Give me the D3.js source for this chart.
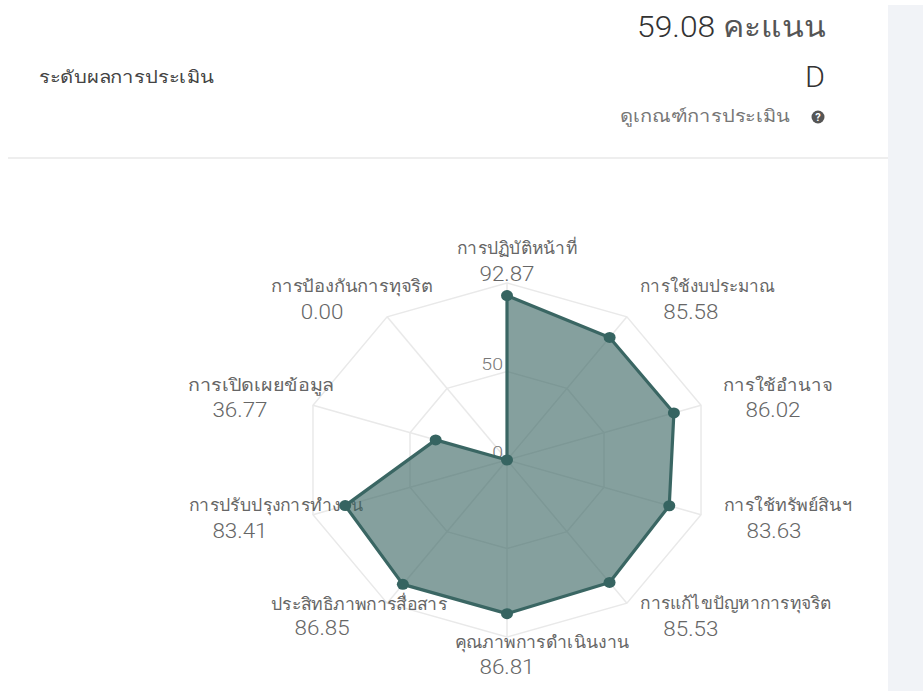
<!DOCTYPE html>
<html>
<head>
<meta charset="utf-8">
<script src="https://cdn.jsdelivr.net/npm/d3@7"></script>
<style>
html, body { margin: 0; background: #fff; }
svg { display: block; }
text { font-family: Roboto, "Noto Sans", sans-serif; font-weight: 300; }
</style>
</head>
<body>
<script>
const categories = ['การปฏิบัติหน้าที่', 'การใช้งบประมาณ', 'การใช้อำนาจ', 'การใช้ทรัพย์สินฯ', 'การแก้ไขปัญหาการทุจริต', 'คุณภาพการดำเนินงาน', 'ประสิทธิภาพการสื่อสาร', 'การปรับปรุงการทำงาน', 'การเปิดเผยข้อมูล', 'การป้องกันการทุจริต']
const scores = [92.87, 85.58, 86.02, 83.63, 85.53, 86.81, 86.85, 83.41, 36.77, 0]
const ringTicks = [0, 50, 100]

const width = 923
const height = 691
const cx = 507
const cy = 460
const radius = 177
// the screenshot is stretched sideways, so x gets its own factor
const stretch = 204 / 177

const valueOffset = [[0, -9], [64, -5], [72, 5], [73, 16], [64, 26], [0, 30], [-65, 25], [-73, 16], [-73, 5], [-65, -5]]
const nameOffset = [[10, -26], [17, -26], [5, -25], [14, -26], [45, -26], [35, -25], [37, -24], [36, -26], [21, -25], [30, -26]]
const nameWidth = [120, 135, 110, 128, 191, 175, 176, 174, 146, 162]

const svg = d3.select('body')
	.append('svg')
	.attr('width', width)
	.attr('height', height)

const fitTo = (sel, w) => sel
	.attr('textLength', w)
	.attr('lengthAdjust', 'spacingAndGlyphs')

// widen a text by a factor, the same way the stretched screenshot did
const widen = (sel, factor) => fitTo(sel, sel.node().getComputedTextLength() * factor)

// side panel and divider
svg.append('rect').attr('x', 888).attr('y', 5).attr('width', 35).attr('height', height).attr('fill', '#f1f3f7')
svg.append('rect').attr('x', 8).attr('y', 157).attr('width', 880).attr('height', 2).attr('fill', '#eeeeee')

const header = (txt, x, y, size, color, anchor) => svg.append('text')
	.attr('x', x)
	.attr('y', y)
	.attr('text-anchor', anchor)
	.attr('font-size', size)
	.attr('fill', color)
	.text(txt)

const total = header('59.08 ', 826, 37, 29, '#333333', 'end')
total.append('tspan').attr('fill', '#555555').text('คะแนน')
fitTo(total, 189)
fitTo(header('ระดับผลการประเมิน', 39, 83, 17, '#444444', 'start'), 175)
fitTo(header('D', 825, 87, 29, '#333333', 'end'), 20)
fitTo(header('ดูเกณฑ์การประเมิน', 790, 122, 17, '#777777', 'end'), 170)

svg.append('circle').attr('cx', 818).attr('cy', 117).attr('r', 6.5).attr('fill', '#555555')
header('?', 818, 121, 11, '#ffffff', 'middle').style('font-weight', 700)

const r = d3.scaleLinear().domain([0, 100]).range([0, radius])
const angle = d3.scaleBand().domain(d3.range(categories.length)).range([0, 2 * Math.PI]).align(0)
const theta = i => angle(i)
const px = (i, v) => cx + stretch * r(v) * Math.sin(theta(i))
const py = (i, v) => cy - r(v) * Math.cos(theta(i))

const idx = d3.range(categories.length)
const closedLine = d3.line().curve(d3.curveLinearClosed)

// rings and spokes
const grid = svg.append('g').attr('fill', 'none').attr('stroke', '#e9e9e9').attr('stroke-width', 1.5)
ringTicks.slice(1).forEach(t => {
	grid.append('path').attr('d', closedLine(idx.map(i => [px(i, t), py(i, t)])))
})
idx.forEach(i => {
	grid.append('line').attr('x1', cx).attr('y1', cy).attr('x2', px(i, 100)).attr('y2', py(i, 100))
})

// tick labels
ringTicks.slice(0, 2).forEach(t => {
	const tick = svg.append('text')
		.attr('x', cx - 4)
		.attr('y', py(0, t) - 2)
		.attr('text-anchor', 'end')
		.attr('font-size', 17)
		.attr('fill', '#777777')
		.text(t)
	widen(tick, 1.15)
})

// category and value labels go under the area, as in the original
const labels = svg.append('g').attr('fill', '#666666').attr('text-anchor', 'middle')
idx.forEach(i => {
	const vx = px(i, 100) + valueOffset[i][0]
	const vy = py(i, 100) + valueOffset[i][1]
	const value = labels.append('text')
		.attr('x', vx)
		.attr('y', vy + 7)
		.attr('font-size', 20)
		.text(scores[i].toFixed(2))
	widen(value, 1.12)
	const name = labels.append('text')
		.attr('x', vx + nameOffset[i][0])
		.attr('y', vy + nameOffset[i][1] + 6)
		.attr('font-size', 17)
		.text(categories[i])
	fitTo(name, nameWidth[i])
})

// score area
svg.append('path')
	.attr('d', closedLine(idx.map(i => [px(i, scores[i]), py(i, scores[i])])))
	.attr('fill', 'rgba(58,102,99,0.62)')
	.attr('stroke', '#3a6663')
	.attr('stroke-width', 3.2)
	.attr('stroke-linejoin', 'round')

svg.selectAll('.dot')
	.data(idx)
	.enter()
	.append('ellipse')
	.attr('class', 'dot')
	.attr('cx', i => px(i, scores[i]))
	.attr('cy', i => py(i, scores[i]))
	.attr('rx', 6)
	.attr('ry', 5.5)
	.attr('fill', '#366461')
</script>
</body>
</html>
